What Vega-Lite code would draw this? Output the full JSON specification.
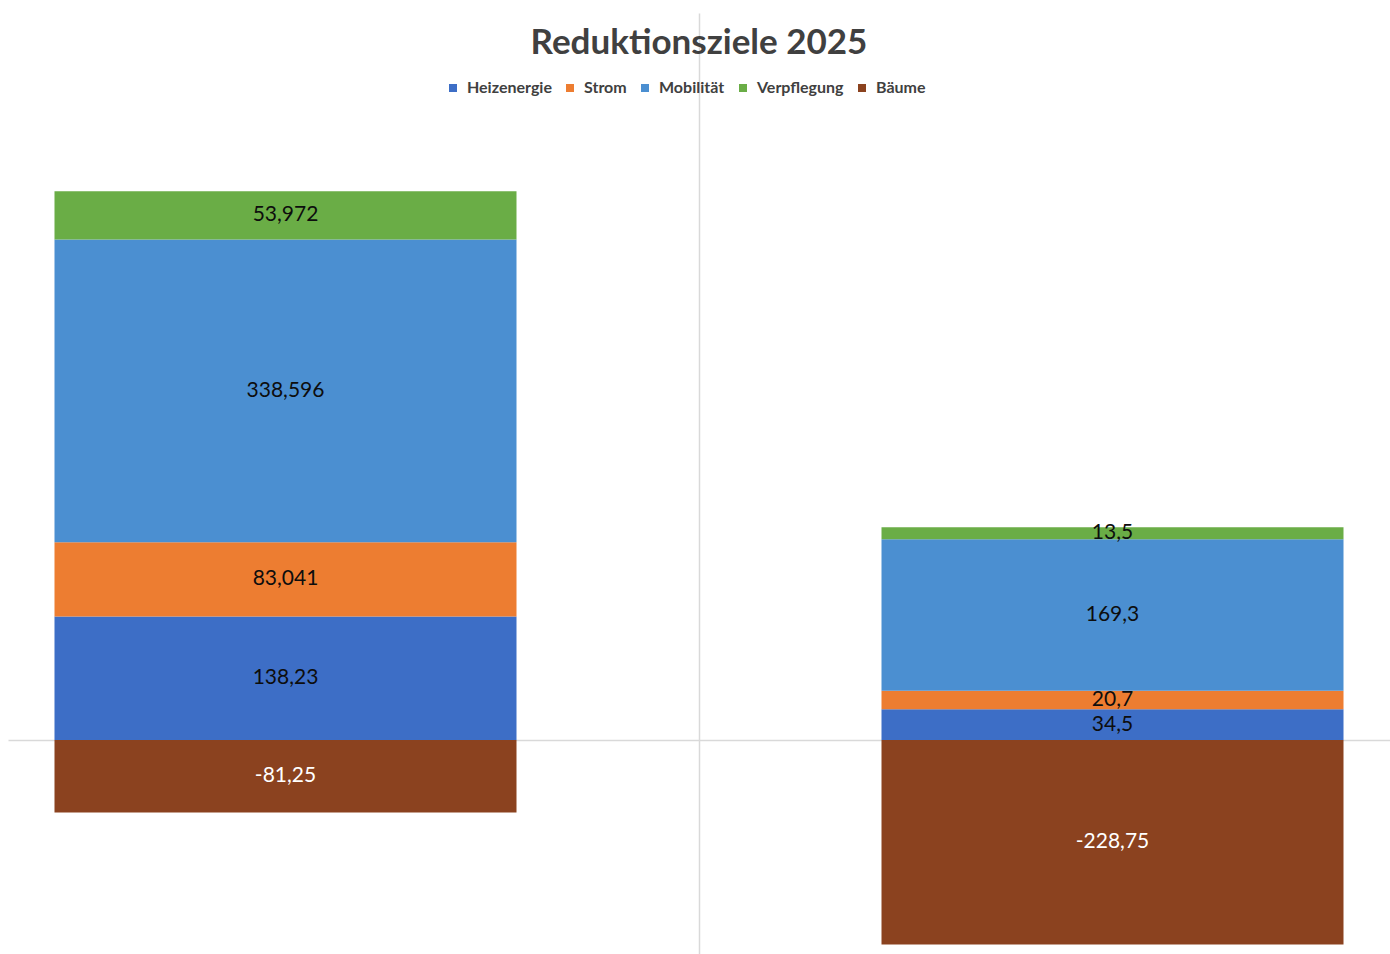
{
  "$schema": "https://vega.github.io/schema/vega-lite/v6.json",
  "width": 1382,
  "height": 941,
  "autosize": {"type": "none"},
  "padding": {"left": 8, "top": 13, "right": 0, "bottom": 0},
  "background": "#FFFFFF",
  "title": {
    "text": "Reduktionsziele 2025",
    "anchor": "middle",
    "offset": -48,
    "font": "Lato",
    "fontSize": 35,
    "fontWeight": "bold",
    "color": "#404040"
  },
  "data": {
    "values": [
      {"Stand": "Ist", "Kategorie": "Heizenergie", "Wert": 138.23, "Beschriftung": "138,23", "Rang": 1},
      {"Stand": "Ist", "Kategorie": "Strom", "Wert": 83.041, "Beschriftung": "83,041", "Rang": 2},
      {"Stand": "Ist", "Kategorie": "Mobilität", "Wert": 338.596, "Beschriftung": "338,596", "Rang": 3},
      {"Stand": "Ist", "Kategorie": "Verpflegung", "Wert": 53.972, "Beschriftung": "53,972", "Rang": 4},
      {"Stand": "Ist", "Kategorie": "Bäume", "Wert": -81.25, "Beschriftung": "-81,25", "Rang": 5},
      {"Stand": "Ziel 2025", "Kategorie": "Heizenergie", "Wert": 34.5, "Beschriftung": "34,5", "Rang": 1},
      {"Stand": "Ziel 2025", "Kategorie": "Strom", "Wert": 20.7, "Beschriftung": "20,7", "Rang": 2},
      {"Stand": "Ziel 2025", "Kategorie": "Mobilität", "Wert": 169.3, "Beschriftung": "169,3", "Rang": 3},
      {"Stand": "Ziel 2025", "Kategorie": "Verpflegung", "Wert": 13.5, "Beschriftung": "13,5", "Rang": 4},
      {"Stand": "Ziel 2025", "Kategorie": "Bäume", "Wert": -228.75, "Beschriftung": "-228,75", "Rang": 5}
    ]
  },
  "layer": [
    {
      "mark": {"type": "bar"},
      "encoding": {
        "x": {
          "field": "Stand",
          "type": "nominal",
          "scale": {"domain": ["Ist", "Ziel 2025"], "paddingInner": 0.44135, "paddingOuter": 0.05622},
          "axis": {
            "orient": "bottom",
            "offset": -214,
            "labels": false,
            "ticks": false,
            "grid": false,
            "title": null,
            "domain": true,
            "domainColor": "#D9D9D9",
            "domainWidth": 1.5
          }
        },
        "y": {
          "field": "Wert",
          "type": "quantitative",
          "stack": "zero",
          "scale": {"domain": [-239.4, 813.2], "nice": false},
          "axis": {
            "orient": "left",
            "offset": -691,
            "labels": false,
            "ticks": false,
            "grid": false,
            "title": null,
            "domain": true,
            "domainColor": "#D9D9D9",
            "domainWidth": 1.5
          }
        },
        "order": {"field": "Rang", "type": "quantitative"},
        "color": {
          "field": "Kategorie",
          "type": "nominal",
          "scale": {
            "domain": ["Heizenergie", "Strom", "Mobilität", "Verpflegung", "Bäume"],
            "range": ["#3D6EC6", "#ED7D31", "#4B8FD1", "#6AAD46", "#8B421F"]
          },
          "legend": {
            "orient": "none",
            "legendX": 437,
            "legendY": 67,
            "direction": "horizontal",
            "title": null,
            "symbolType": "square",
            "symbolSize": 64,
            "labelFont": "Lato",
            "labelFontSize": 16,
            "labelFontWeight": "bold",
            "labelColor": "#404040",
            "labelOffset": 6
          }
        }
      }
    },
    {
      "mark": {"type": "text", "font": "Lato", "fontSize": 21},
      "encoding": {
        "x": {"field": "Stand", "type": "nominal"},
        "y": {"field": "Wert", "type": "quantitative", "stack": "zero", "bandPosition": 0.5},
        "order": {"field": "Rang", "type": "quantitative"},
        "detail": {"field": "Kategorie", "type": "nominal"},
        "text": {"field": "Beschriftung", "type": "nominal"},
        "color": {
          "condition": {"test": "datum.Kategorie === 'Bäume'", "value": "#FFFFFF"},
          "value": "#0D0D0D"
        }
      }
    }
  ],
  "config": {
    "view": {"stroke": null}
  }
}
